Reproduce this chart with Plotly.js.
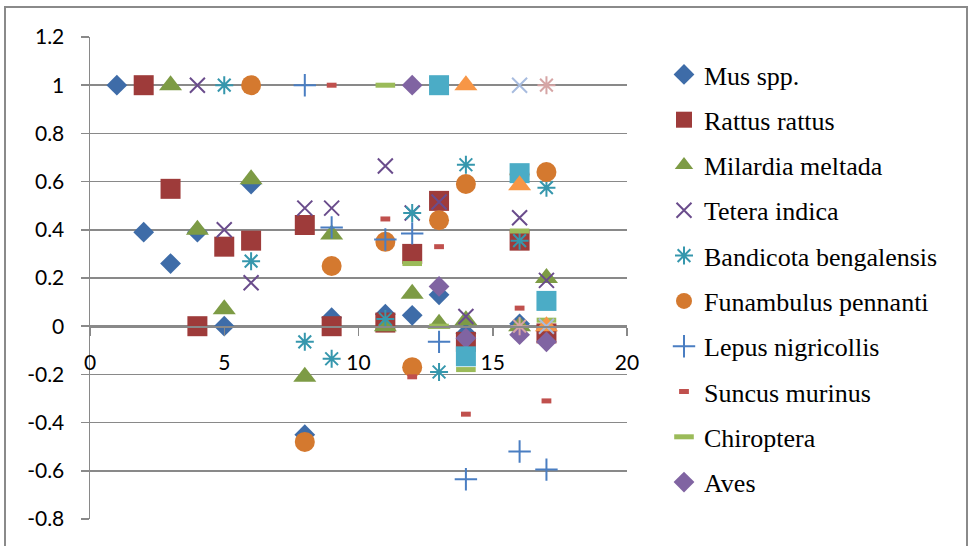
<!DOCTYPE html>
<html>
<head>
<meta charset="utf-8">
<script src="https://cdn.plot.ly/plotly-3.0.1.min.js"></script>
<style>html,body{margin:0;padding:0;background:#fff;}#chart{width:971px;height:546px;}</style>
</head>
<body>
<div id="chart"></div>
<script>
// ---- data ----
const seriesNames = ["Mus spp.", "Rattus rattus", "Milardia meltada", "Tetera indica",
  "Bandicota bengalensis", "Funambulus pennanti", "Lepus nigricollis", "Suncus murinus",
  "Chiroptera", "Aves", "Series 11", "Series 12", "Series 13", "Series 14"];

const musX = [1, 2, 3, 4, 5, 6, 8, 9, 11, 12, 13, 14, 16, 17];
const musY = [1, 0.39, 0.26, 0.39, 0.0, 0.59, -0.45, 0.035, 0.05, 0.045, 0.13, -0.03, 0.01, -0.02];

const rattusX = [2, 3, 4, 5, 6, 8, 9, 11, 12, 13, 14, 16, 17];
const rattusY = [1, 0.57, 0.0, 0.33, 0.355, 0.42, 0.0, 0.015, 0.30, 0.52, -0.065, 0.355, -0.03];

const milardiaX = [3, 4, 5, 6, 8, 9, 11, 12, 13, 14, 16, 17];
const milardiaY = [1, 0.40, 0.07, 0.61, -0.21, 0.38, 0.0, 0.135, 0.01, 0.025, 0.0, 0.20];

const teteraX = [4, 5, 6, 8, 9, 11, 12, 13, 14, 16, 17];
const teteraY = [1, 0.40, 0.18, 0.49, 0.49, 0.665, 0.47, 0.515, 0.04, 0.45, 0.19];

const bandicotaX = [5, 6, 8, 9, 11, 12, 13, 14, 16, 17];
const bandicotaY = [1, 0.27, -0.065, -0.135, 0.03, 0.47, -0.19, 0.67, 0.355, 0.575];

const funambulusX = [6, 8, 9, 11, 12, 13, 14, 16, 17];
const funambulusY = [1, -0.48, 0.25, 0.35, -0.17, 0.44, 0.59, 0.63, 0.64];

const lepusX = [8, 9, 11, 12, 13, 14, 16, 17];
const lepusY = [1, 0.41, 0.36, 0.385, -0.065, -0.635, -0.52, -0.595];

const suncusX = [9, 11, 12, 13, 14, 16, 17];
const suncusY = [1, 0.445, -0.21, 0.33, -0.365, 0.075, -0.31];

const chiropteraX = [11, 12, 13, 14, 16, 17];
const chiropteraY = [1, 0.26, 0.0, -0.18, 0.395, 0.025];

const avesX = [12, 13, 14, 16, 17];
const avesY = [1, 0.165, -0.05, -0.035, -0.065];

const s11X = [13, 14, 16, 17];
const s11Y = [1, -0.125, 0.635, 0.105];

const s12X = [14, 16, 17];
const s12Y = [1, 0.585, 0.0];

const s13X = [16, 17];
const s13Y = [1, 0.0];

const s14X = [16, 17];
const s14Y = [0.0, 1];

const yTickVals = [-0.8, -0.6, -0.4, -0.2, 0, 0.2, 0.4, 0.6, 0.8, 1, 1.2];
const yTickText = ["-0.8", "-0.6", "-0.4", "-0.2", "0", "0.2", "0.4", "0.6", "0.8", "1", "1.2"];
const xTickVals = [0, 5, 10, 15, 20];
const xTickText = ["0", "5", "10", "15", "20"];

// ---- styles ----
const xs = [musX, rattusX, milardiaX, teteraX, bandicotaX, funambulusX, lepusX, suncusX,
  chiropteraX, avesX, s11X, s12X, s13X, s14X];
const ys = [musY, rattusY, milardiaY, teteraY, bandicotaY, funambulusY, lepusY, suncusY,
  chiropteraY, avesY, s11Y, s12Y, s13Y, s14Y];

const styles = [
  {symbol: "diamond", size: 16, color: "#3E6CA8"},
  {symbol: "square", size: 20, color: "#9E3B3A"},
  {symbol: "triangle-up", size: 20, color: "#7D9B45"},
  {symbol: "x-thin-open", size: 15, color: "#6A4C8C", lw: 2},
  {symbol: "asterisk-open", size: 15, color: "#3697AD", lw: 2},
  {symbol: "circle", size: 20, color: "#D4792F"},
  {symbol: "cross-thin-open", size: 16, color: "#4A7EC2", lw: 2},
  {symbol: "line-ew-open", size: 7, color: "#C0504D", lw: 5},
  {symbol: "line-ew-open", size: 14, color: "#9BBB59", lw: 5},
  {symbol: "diamond", size: 16, color: "#8064A2"},
  {symbol: "square", size: 20, color: "#4BACC6"},
  {symbol: "triangle-up", size: 20, color: "#F79646"},
  {symbol: "x-thin-open", size: 15, color: "#A8BCDF", lw: 2},
  {symbol: "asterisk-open", size: 15, color: "#D6A5A5", lw: 2}
];

const traces = seriesNames.map((name, i) => {
  const st = styles[i];
  const open = st.symbol.endsWith("-open");
  return {
    type: "scatter",
    mode: "markers",
    name: name,
    x: xs[i],
    y: ys[i],
    legendgroup: "g" + i,
    showlegend: i < 10,
    cliponaxis: false,
    marker: {
      symbol: st.symbol,
      size: st.size,
      color: st.color,
      line: open ? {color: st.color, width: st.lw} : {width: 0}
    },
    hoverinfo: "x+y+name"
  };
});

const gridCol = "#898989";
const px0 = 90, px1 = 627, py0 = 37, py1 = 519;
const pw = px1 - px0, ph = py1 - py0;
const tickFamily = "Lato";
const legendFamily = "Liberation Serif";

const layout = {
  width: 971,
  height: 546,
  margin: {l: px0, r: 971 - px1, t: py0, b: 546 - py1, pad: 0},
  paper_bgcolor: "#ffffff",
  plot_bgcolor: "#ffffff",
  showlegend: true,
  xaxis: {
    range: [0, 20],
    tickvals: xTickVals,
    ticktext: xTickText,
    showgrid: false,
    zeroline: false,
    showline: true,
    linecolor: gridCol,
    linewidth: 1.5,
    ticks: "outside",
    ticklen: 8,
    tickwidth: 1.5,
    tickcolor: gridCol,
    anchor: "free",
    position: 0.4,
    ticklabelstandoff: 9,
    tickfont: {family: tickFamily, size: 21, color: "#000"},
    fixedrange: true
  },
  yaxis: {
    range: [-0.8, 1.2],
    tickvals: yTickVals,
    ticktext: yTickText,
    showgrid: true,
    gridcolor: gridCol,
    gridwidth: 1.5,
    zeroline: false,
    showline: true,
    linecolor: gridCol,
    linewidth: 1.5,
    ticks: "outside",
    ticklen: 8,
    tickwidth: 1.5,
    tickcolor: gridCol,
    ticklabelstandoff: 12,
    tickfont: {family: tickFamily, size: 21, color: "#000"},
    fixedrange: true
  },
  legend: {
    x: (664 - px0) / pw,
    xanchor: "left",
    y: (py1 - 51) / ph,
    yanchor: "top",
    font: {family: legendFamily, size: 26, color: "#000"},
    tracegroupgap: 8.5,
    bgcolor: "rgba(0,0,0,0)",
    itemclick: false,
    itemdoubleclick: false
  },
  shapes: [{
    type: "rect", xref: "paper", yref: "paper",
    x0: (5 - px0) / pw, x1: (967 - px0) / pw,
    y0: (py1 - 600) / ph, y1: (py1 - 7) / ph,
    line: {color: "#8a8a8a", width: 2},
    fillcolor: "rgba(0,0,0,0)",
    layer: "below"
  }]
};

Plotly.newPlot("chart", traces, layout, {displayModeBar: false, staticPlot: true});
</script>
</body>
</html>
